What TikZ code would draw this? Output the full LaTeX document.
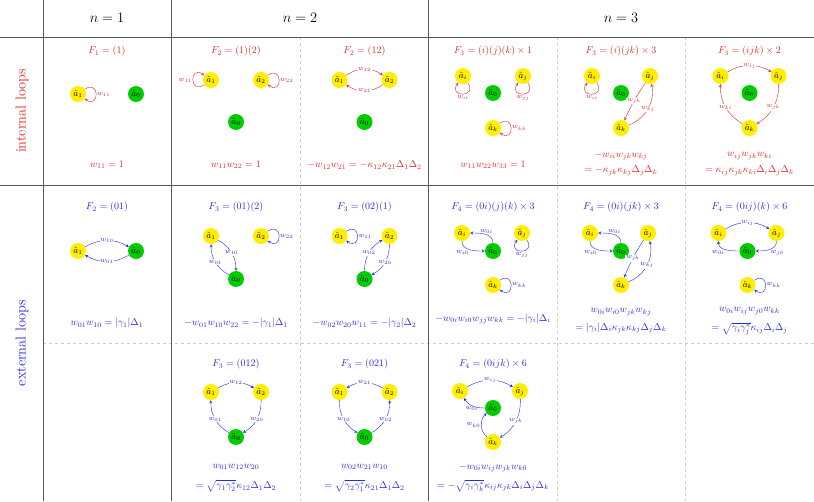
\documentclass[tikz,border=0pt]{standalone}
\usepackage{amsmath}
\usepackage{tikz}
\usetikzlibrary{arrows.meta, backgrounds}
\definecolor{intred}{RGB}{228,38,38}
\definecolor{extblue}{RGB}{40,40,228}
\definecolor{modeyellow}{RGB}{255,238,0}
\definecolor{modegreen}{RGB}{0,205,0}
\tikzstyle{mode} = [circle, minimum size=16pt, inner sep=0pt, fill=modeyellow, text=black, font=\small]
\tikzstyle{zero} = [mode, fill=modegreen]
\tikzstyle{arrow} = [->, >=stealth]
\tikzstyle{wlab} = [font=\scriptsize, fill=white, inner sep=0.8pt]
\tikzstyle{llab} = [font=\scriptsize, inner sep=1pt]
\tikzstyle{loopright} = [out=35, in=-35, looseness=5]
\tikzstyle{loopleft} = [out=-145, in=145, looseness=5]
\tikzstyle{loopbelow} = [out=-55, in=-125, looseness=5]
\tikzstyle{rule} = [draw=black!65, line width=0.6pt]
\tikzstyle{subrule} = [draw=black!20, dashed]

\begin{document}
\begin{tikzpicture}[x=1pt, y=1pt, background rectangle/.style={fill=white}, show background rectangle, inner frame sep=0pt]
\useasboundingbox (0,0) rectangle (814,-501);

% table rules
\draw [subrule] (43,-343) -- (814,-343);
\draw [subrule] (300,-37) -- (300,-501);
\draw [subrule] (557,-37) -- (557,-501);
\draw [subrule] (685,-37) -- (685,-501);
\draw [rule] (0,-37) -- (814,-37);
\draw [rule] (0,-185) -- (814,-185);
\draw [rule] (43,0) -- (43,-501);
\draw [rule] (171.5,0) -- (171.5,-501);
\draw [rule] (428.5,0) -- (428.5,-501);

% headers
\node (h1) [font=\Large] at (107,-18) {$n=1$};
\node (h2) [font=\Large] at (300,-18) {$n=2$};
\node (h3) [font=\Large] at (621,-18) {$n=3$};
\node (lin) [font=\Large, text=intred, rotate=90] at (22,-111) {internal loops};
\node (lex) [font=\Large, text=extblue, rotate=90] at (22,-343) {external loops};

% internal loops, n=1
\begin{scope}[shift={(107,-51)}, intred]
\node (in1-t) at (0,0) {$F_1=(1)$};
\node (in1-a1) [mode] at (-29,-43) {$\hat a_1$};
\node (in1-a0) [zero] at (29,-43) {$\hat a_0$};
\draw [arrow] (in1-a1) to[loopright] node[llab, right] {$w_{11}$} (in1-a1);
\node (in1-f) at (0,-114) {$w_{11}=1$};
\end{scope}

% internal loops, n=2
\begin{scope}[shift={(236,-51)}, intred]
\node (in2a-t) at (0,0) {$F_2=(1)(2)$};
\node (in2a-a1) [mode] at (-25,-29) {$\hat a_1$};
\node (in2a-a2) [mode] at (25,-29) {$\hat a_2$};
\node (in2a-a0) [zero] at (0,-71) {$\hat a_0$};
\draw [arrow] (in2a-a1) to[loopleft] node[llab, left] {$w_{11}$} (in2a-a1);
\draw [arrow] (in2a-a2) to[loopright] node[llab, right] {$w_{22}$} (in2a-a2);
\node (in2a-f) at (0,-114) {$w_{11}w_{22}=1$};
\end{scope}

\begin{scope}[shift={(364.5,-51)}, intred]
\node (in2b-t) at (0,0) {$F_2=(12)$};
\node (in2b-a1) [mode] at (-25,-29) {$\hat a_1$};
\node (in2b-a2) [mode] at (25,-29) {$\hat a_2$};
\node (in2b-a0) [zero] at (0,-71) {$\hat a_0$};
\draw [arrow] (in2b-a1) to[bend left=35] node[wlab] {$w_{12}$} (in2b-a2);
\draw [arrow] (in2b-a2) to[bend left=35] node[wlab] {$w_{21}$} (in2b-a1);
\node (in2b-f) at (0,-114) {$-w_{12}w_{21}=-\kappa_{12}\kappa_{21}\Delta_1\Delta_2$};
\end{scope}

% internal loops, n=3
\begin{scope}[shift={(493,-51)}, intred]
\node (in3a-t) at (0,0) {$F_3=(i)(j)(k)\times 1$};
\node (in3a-ai) [mode] at (-30,-25) {$\hat a_i$};
\node (in3a-aj) [mode] at (30,-25) {$\hat a_j$};
\node (in3a-a0) [zero] at (0,-42) {$\hat a_0$};
\node (in3a-ak) [mode] at (0,-77) {$\hat a_k$};
\draw [arrow] (in3a-ai) to[loopbelow] node[llab, below] {$w_{ii}$} (in3a-ai);
\draw [arrow] (in3a-aj) to[loopbelow] node[llab, below] {$w_{jj}$} (in3a-aj);
\draw [arrow] (in3a-ak) to[loopright] node[llab, right] {$w_{kk}$} (in3a-ak);
\node (in3a-f) at (0,-114) {$w_{11}w_{22}w_{33}=1$};
\end{scope}

\begin{scope}[shift={(621,-51)}, intred]
\node (in3b-t) at (0,0) {$F_3=(i)(jk)\times 3$};
\node (in3b-ai) [mode] at (-29,-25) {$\hat a_i$};
\node (in3b-aj) [mode] at (29,-25) {$\hat a_j$};
\node (in3b-a0) [zero] at (0,-42) {$\hat a_0$};
\node (in3b-ak) [mode] at (0,-77) {$\hat a_k$};
\draw [arrow] (in3b-ai) to[loopbelow] node[llab, below] {$w_{ii}$} (in3b-ai);
\draw [arrow] (in3b-aj) to[bend right=5] node[wlab] {$w_{jk}$} (in3b-ak);
\draw [arrow] (in3b-ak) to[bend right=40] node[wlab] {$w_{kj}$} (in3b-aj);
\node (in3b-f1) at (0,-105) {$-w_{ii}w_{jk}w_{kj}$};
\node (in3b-f2) at (0,-120) {$=-\kappa_{jk}\kappa_{kj}\Delta_j\Delta_k$};
\end{scope}

\begin{scope}[shift={(749.5,-51)}, intred]
\node (in3c-t) at (0,0) {$F_3=(ijk)\times 2$};
\node (in3c-ai) [mode] at (-29,-25) {$\hat a_i$};
\node (in3c-aj) [mode] at (29,-25) {$\hat a_j$};
\node (in3c-a0) [zero] at (0,-42) {$\hat a_0$};
\node (in3c-ak) [mode] at (0,-77) {$\hat a_k$};
\draw [arrow] (in3c-ai) to[bend left=30] node[wlab] {$w_{ij}$} (in3c-aj);
\draw [arrow] (in3c-aj) to[bend left=30] node[wlab] {$w_{jk}$} (in3c-ak);
\draw [arrow] (in3c-ak) to[bend left=30] node[wlab] {$w_{ki}$} (in3c-ai);
\node (in3c-f1) at (0,-105) {$w_{ij}w_{jk}w_{ki}$};
\node (in3c-f2) at (0,-120) {$=\kappa_{ij}\kappa_{jk}\kappa_{ki}\Delta_i\Delta_j\Delta_k$};
\end{scope}

% external loops, n=1
\begin{scope}[shift={(107,-207)}, extblue]
\node (ex1-t) at (0,0) {$F_2=(01)$};
\node (ex1-a1) [mode] at (-29,-44) {$\hat a_1$};
\node (ex1-a0) [zero] at (29,-44) {$\hat a_0$};
\draw [arrow] (ex1-a1) to[bend left=30] node[wlab] {$w_{10}$} (ex1-a0);
\draw [arrow] (ex1-a0) to[bend left=30] node[wlab] {$w_{01}$} (ex1-a1);
\node (ex1-f) at (0,-116) {$w_{01}w_{10}=|\gamma_1|\Delta_1$};
\end{scope}

% external loops, n=2
\begin{scope}[shift={(236,-207)}, extblue]
\node (ex2a-t) at (0,0) {$F_3=(01)(2)$};
\node (ex2a-a1) [mode] at (-25,-29) {$\hat a_1$};
\node (ex2a-a2) [mode] at (25,-29) {$\hat a_2$};
\node (ex2a-a0) [zero] at (0,-72) {$\hat a_0$};
\draw [arrow] (ex2a-a1) to[bend left=30] node[wlab] {$w_{10}$} (ex2a-a0);
\draw [arrow] (ex2a-a0) to[bend left=30] node[wlab] {$w_{01}$} (ex2a-a1);
\draw [arrow] (ex2a-a2) to[loopright] node[llab, right] {$w_{22}$} (ex2a-a2);
\node (ex2a-f) at (0,-116) {$-w_{01}w_{10}w_{22}=-|\gamma_1|\Delta_1$};
\end{scope}

\begin{scope}[shift={(364.5,-207)}, extblue]
\node (ex2b-t) at (0,0) {$F_3=(02)(1)$};
\node (ex2b-a1) [mode] at (-25,-29) {$\hat a_1$};
\node (ex2b-a2) [mode] at (25,-29) {$\hat a_2$};
\node (ex2b-a0) [zero] at (0,-72) {$\hat a_0$};
\draw [arrow] (ex2b-a1) to[loopright] node[llab, right] {$w_{11}$} (ex2b-a1);
\draw [arrow] (ex2b-a0) to[bend left=30] node[wlab] {$w_{02}$} (ex2b-a2);
\draw [arrow] (ex2b-a2) to[bend left=30] node[wlab] {$w_{20}$} (ex2b-a0);
\node (ex2b-f) at (0,-116) {$-w_{02}w_{20}w_{11}=-|\gamma_2|\Delta_2$};
\end{scope}

% external loops, n=3
\begin{scope}[shift={(493,-207)}, extblue]
\node (ex3a-t) at (0,0) {$F_4=(0i)(j)(k)\times 3$};
\node (ex3a-ai) [mode] at (-31,-26) {$\hat a_i$};
\node (ex3a-aj) [mode] at (29,-26) {$\hat a_j$};
\node (ex3a-a0) [zero] at (0,-44) {$\hat a_0$};
\node (ex3a-ak) [mode] at (0,-78) {$\hat a_k$};
\draw [arrow] (ex3a-a0) to[out=90, in=0] node[llab, above, pos=0.45] {$w_{0i}$} (ex3a-ai);
\draw [arrow] (ex3a-ai) to[out=-90, in=180] node[llab, below left, pos=0.5] {$w_{i0}$} (ex3a-a0);
\draw [arrow] (ex3a-aj) to[loopbelow] node[llab, below] {$w_{jj}$} (ex3a-aj);
\draw [arrow] (ex3a-ak) to[loopright] node[llab, right] {$w_{kk}$} (ex3a-ak);
\node (ex3a-f) at (0,-112) {$-w_{0i}w_{i0}w_{jj}w_{kk}=-|\gamma_i|\Delta_i$};
\end{scope}

\begin{scope}[shift={(621,-207)}, extblue]
\node (ex3b-t) at (0,0) {$F_4=(0i)(jk)\times 3$};
\node (ex3b-ai) [mode] at (-31,-26) {$\hat a_i$};
\node (ex3b-aj) [mode] at (27,-26) {$\hat a_j$};
\node (ex3b-a0) [zero] at (0,-44) {$\hat a_0$};
\node (ex3b-ak) [mode] at (0,-78) {$\hat a_k$};
\draw [arrow] (ex3b-a0) to[out=90, in=0] node[llab, above, pos=0.45] {$w_{0i}$} (ex3b-ai);
\draw [arrow] (ex3b-ai) to[out=-90, in=180] node[llab, below left, pos=0.5] {$w_{i0}$} (ex3b-a0);
\draw [arrow] (ex3b-aj) to[bend right=5] node[wlab] {$w_{jk}$} (ex3b-ak);
\draw [arrow] (ex3b-ak) to[bend right=40] node[wlab] {$w_{kj}$} (ex3b-aj);
\node (ex3b-f1) at (0,-105) {$w_{0i}w_{i0}w_{jk}w_{kj}$};
\node (ex3b-f2) at (0,-121) {$=|\gamma_i|\Delta_i\kappa_{jk}\kappa_{kj}\Delta_j\Delta_k$};
\end{scope}

\begin{scope}[shift={(749.5,-207)}, extblue]
\node (ex3c-t) at (0,0) {$F_4=(0ij)(k)\times 6$};
\node (ex3c-ai) [mode] at (-31,-26) {$\hat a_i$};
\node (ex3c-aj) [mode] at (27,-26) {$\hat a_j$};
\node (ex3c-a0) [zero] at (-2,-44) {$\hat a_0$};
\node (ex3c-ak) [mode] at (-2,-78) {$\hat a_k$};
\draw [arrow] (ex3c-ai) to[bend left=30] node[wlab] {$w_{ij}$} (ex3c-aj);
\draw [arrow] (ex3c-aj) to[out=-90, in=0] node[llab, below right, pos=0.5] {$w_{j0}$} (ex3c-a0);
\draw [arrow] (ex3c-a0) to[out=180, in=-90] node[llab, below left, pos=0.5] {$w_{0i}$} (ex3c-ai);
\draw [arrow] (ex3c-ak) to[loopright] node[llab, right] {$w_{kk}$} (ex3c-ak);
\node (ex3c-f1) at (0,-104) {$w_{0i}w_{ij}w_{j0}w_{kk}$};
\node (ex3c-f2) at (0,-122) {$=\sqrt{\gamma_i\gamma_j^*}\kappa_{ij}\Delta_i\Delta_j$};
\end{scope}

% external loops, second row
\begin{scope}[shift={(236,-364)}, extblue]
\node (ey2a-t) at (0,0) {$F_3=(012)$};
\node (ey2a-a1) [mode] at (-25,-28) {$\hat a_1$};
\node (ey2a-a2) [mode] at (25,-28) {$\hat a_2$};
\node (ey2a-a0) [zero] at (0,-73) {$\hat a_0$};
\draw [arrow] (ey2a-a1) to[bend left=30] node[wlab] {$w_{12}$} (ey2a-a2);
\draw [arrow] (ey2a-a2) to[bend left=30] node[wlab] {$w_{20}$} (ey2a-a0);
\draw [arrow] (ey2a-a0) to[bend left=30] node[wlab] {$w_{01}$} (ey2a-a1);
\node (ey2a-f1) at (0,-103) {$w_{01}w_{12}w_{20}$};
\node (ey2a-f2) at (0,-122) {$=\sqrt{\gamma_1\gamma_2^*}\kappa_{12}\Delta_1\Delta_2$};
\end{scope}

\begin{scope}[shift={(364.5,-364)}, extblue]
\node (ey2b-t) at (0,0) {$F_3=(021)$};
\node (ey2b-a1) [mode] at (-25,-28) {$\hat a_1$};
\node (ey2b-a2) [mode] at (25,-28) {$\hat a_2$};
\node (ey2b-a0) [zero] at (0,-73) {$\hat a_0$};
\draw [arrow] (ey2b-a2) to[bend right=30] node[wlab] {$w_{21}$} (ey2b-a1);
\draw [arrow] (ey2b-a1) to[bend right=30] node[wlab] {$w_{10}$} (ey2b-a0);
\draw [arrow] (ey2b-a0) to[bend right=30] node[wlab] {$w_{02}$} (ey2b-a2);
\node (ey2b-f1) at (0,-103) {$w_{02}w_{21}w_{10}$};
\node (ey2b-f2) at (0,-122) {$=\sqrt{\gamma_2\gamma_1^*}\kappa_{21}\Delta_1\Delta_2$};
\end{scope}

\begin{scope}[shift={(493,-364)}, extblue]
\node (ey3a-t) at (0,0) {$F_4=(0ijk)\times 6$};
\node (ey3a-ai) [mode] at (-33,-27) {$\hat a_i$};
\node (ey3a-aj) [mode] at (27,-27) {$\hat a_j$};
\node (ey3a-a0) [zero] at (0,-44) {$\hat a_0$};
\node (ey3a-ak) [mode] at (0,-78) {$\hat a_k$};
\draw [arrow] (ey3a-ai) to[bend left=30] node[wlab] {$w_{ij}$} (ey3a-aj);
\draw [arrow] (ey3a-aj) to[bend left=30] node[wlab] {$w_{jk}$} (ey3a-ak);
\draw [arrow] (ey3a-ak) to[bend left=50] node[llab, left] {$w_{k0}$} (ey3a-a0);
\draw [arrow] (ey3a-a0) to[out=180, in=-60] node[llab, below, pos=0.55] {$w_{0i}$} (ey3a-ai);
\node (ey3a-f1) at (0,-104) {$-w_{0i}w_{ij}w_{jk}w_{k0}$};
\node (ey3a-f2) at (0,-122) {$=-\sqrt{\gamma_i\gamma_k^*}\kappa_{ij}\kappa_{jk}\Delta_i\Delta_j\Delta_k$};
\end{scope}

\end{tikzpicture}
\end{document}
